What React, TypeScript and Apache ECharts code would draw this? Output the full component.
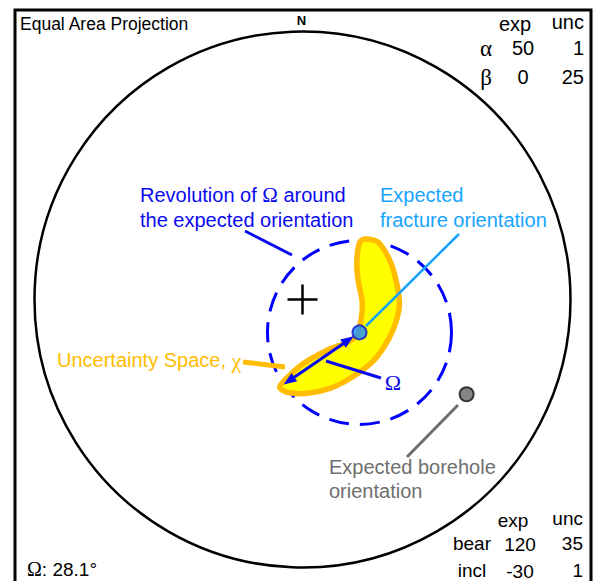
import { useEffect, useRef } from "react";
import * as echarts from "echarts";

const SANS = '"Liberation Sans", Arial, sans-serif';
const SERIF = '"Liberation Serif", "Times New Roman", serif';

// Fracture orientation relative to the borehole axis (degrees)
const fractureRows = ["α", "β"];
const fractureExp = [50, 0];
const fractureUnc = [1, 25];

// Borehole orientation (degrees)
const boreholeRows = ["bear", "incl"];
const boreholeExp = [120, -30];
const boreholeUnc = [35, 1];

// Largest angular departure of the fracture pole inside the uncertainty space
const omegaDeg = 28.1;

// Boundary of the uncertainty space χ, in net units (primitive circle radius = 1)
const chiOutline: [number, number][] = [
  [0.235, 0.226], [0.282, 0.214], [0.319, 0.16], [0.342, 0.101], [0.36, 0.011],
  [0.36, -0.037], [0.342, -0.103], [0.304, -0.177], [0.256, -0.237], [0.18, -0.293],
  [0.104, -0.331], [0.019, -0.35], [-0.058, -0.346], [-0.085, -0.327], [-0.06, -0.295],
  [0.002, -0.24], [0.09, -0.19], [0.166, -0.16], [0.203, -0.134], [0.214, -0.1],
  [0.222, -0.049], [0.222, 0.0], [0.207, 0.075], [0.203, 0.149], [0.214, 0.214],
];

type Vec = [number, number, number];
const rad = (d: number) => (d * Math.PI) / 180;

// unit vector [east, north, down] of a line with given azimuth and plunge
function lineVector(azimuth: number, plunge: number): Vec {
  const a = rad(azimuth);
  const p = rad(plunge);
  return [Math.cos(p) * Math.sin(a), Math.cos(p) * Math.cos(a), Math.sin(p)];
}

// lower-hemisphere equal-area (Schmidt) projection
function project(v: Vec): [number, number] {
  let [e, n, d] = v;
  if (d < 0) {
    e = -e;
    n = -n;
    d = -d;
  }
  const theta = Math.acos(Math.min(1, d));
  const r = Math.SQRT2 * Math.sin(theta / 2);
  const h = Math.hypot(e, n);
  return h < 1e-9 ? [0, 0] : [(r * e) / h, (r * n) / h];
}

const [bear, incl] = boreholeExp;
const [alpha, beta] = fractureExp;
const plunge = -incl;
const axis = lineVector(bear, plunge);
const lowSide: Vec = [
  -Math.sin(rad(plunge)) * Math.sin(rad(bear)),
  -Math.sin(rad(plunge)) * Math.cos(rad(bear)),
  Math.cos(rad(plunge)),
];
const side: Vec = [
  axis[1] * lowSide[2] - axis[2] * lowSide[1],
  axis[2] * lowSide[0] - axis[0] * lowSide[2],
  axis[0] * lowSide[1] - axis[1] * lowSide[0],
];
const tilt = rad(90 - alpha);
const poleVec = [0, 1, 2].map(
  (i) =>
    Math.cos(tilt) * axis[i] +
    Math.sin(tilt) * (Math.cos(rad(beta)) * lowSide[i] + Math.sin(rad(beta)) * side[i])
) as Vec;

const polePoint = project(poleVec);
const boreholePoint = project(axis);
const omegaRadius = Math.SQRT2 * Math.sin(rad(omegaDeg) / 2);

// Ω points from the expected pole to the farthest part of χ
const farthest = chiOutline.reduce((best, p) =>
  Math.hypot(p[0] - polePoint[0], p[1] - polePoint[1]) >
  Math.hypot(best[0] - polePoint[0], best[1] - polePoint[1])
    ? p
    : best
);
const farDist = Math.hypot(farthest[0] - polePoint[0], farthest[1] - polePoint[1]);
const omegaTip: [number, number] = [
  polePoint[0] + ((farthest[0] - polePoint[0]) / farDist) * omegaRadius,
  polePoint[1] + ((farthest[1] - polePoint[1]) / farDist) * omegaRadius,
];

const BLUE = "#0a0af0";
const CYAN = "#17a4ff";
const ORANGE = "#ffbc00";
const GREY = "#6e6e6e";

function txt(
  text: string,
  x: number,
  y: number,
  opts: { fill?: string; size?: number; family?: string; align?: string; weight?: string; rich?: any } = {}
) {
  return {
    type: "text",
    z: 6,
    style: {
      text,
      x,
      y,
      fill: opts.fill || "#000",
      fontSize: opts.size || 20,
      fontFamily: opts.family || SANS,
      fontWeight: opts.weight || "normal",
      textAlign: opts.align || "left",
      textVerticalAlign: "middle",
      rich: opts.rich,
    },
  };
}

function leader(x1: number, y1: number, x2: number, y2: number, stroke: string, width: number) {
  return {
    type: "line",
    z: 3,
    shape: { x1, y1, x2, y2 },
    style: { stroke, lineWidth: width, lineCap: "butt" },
  };
}

function buildOption() {
  const serifRich = (fill: string, size: number) => ({
    g: { fontFamily: SERIF, fontSize: size, fill },
  });

  const tableTexts: any[] = [
    txt("exp", 515, 24, { align: "center" }),
    txt("unc", 584, 22, { align: "right" }),
    txt("exp", 513, 520, { align: "center", size: 19 }),
    txt("unc", 583, 518, { align: "right", size: 19 }),
  ];
  const topRowsY = [48, 77];
  fractureRows.forEach((label, i) => {
    tableTexts.push(txt(label, 486, topRowsY[i], { family: SERIF, size: 23, align: "center" }));
    tableTexts.push(txt(String(fractureExp[i]), 523, topRowsY[i], { align: "center" }));
    tableTexts.push(txt(String(fractureUnc[i]), 584, topRowsY[i], { align: "right" }));
  });
  const bottomRowsY = [543, 570];
  boreholeRows.forEach((label, i) => {
    tableTexts.push(txt(label, 472, bottomRowsY[i], { align: "center", size: 19 }));
    tableTexts.push(txt(String(boreholeExp[i]), 520, bottomRowsY[i] + 1, { align: "center", size: 19 }));
    tableTexts.push(txt(String(boreholeUnc[i]), 583, bottomRowsY[i], { align: "right", size: 19 }));
  });

  return {
    animation: false,
    grid: { left: 34.5, top: 31.5, width: 536, height: 536 },
    xAxis: { type: "value", min: -1, max: 1, show: false },
    yAxis: { type: "value", min: -1, max: 1, show: false },
    graphic: {
      elements: [
        {
          type: "rect",
          z: 1,
          shape: { x: 15, y: 10, width: 576, height: 620 },
          style: { fill: "none", stroke: "#000", lineWidth: 3 },
        },
        txt("Equal Area Projection", 20, 24, { size: 17.5 }),
        txt("N", 301.5, 20, { size: 13, weight: "bold", align: "center" }),
        ...tableTexts,
        txt("Revolution of {g|Ω} around", 140, 195, { fill: BLUE, rich: serifRich(BLUE, 21) }),
        txt("the expected orientation", 140, 220, { fill: BLUE }),
        txt("Expected", 380, 195, { fill: CYAN }),
        txt("fracture orientation", 380, 220, { fill: CYAN }),
        txt("Uncertainty Space,{g| χ}", 57, 360, { fill: ORANGE, rich: serifRich(ORANGE, 22) }),
        txt("Ω", 393, 382, { fill: BLUE, family: SERIF, size: 22, align: "center" }),
        txt("Expected borehole", 329, 467, { fill: GREY }),
        txt("orientation", 329, 491, { fill: GREY }),
        txt("{g|Ω}: 28.1°", 27, 569, { size: 19, rich: serifRich("#000", 20) }),
        leader(245, 231, 292, 255, BLUE, 3),
        leader(366, 326, 459, 234, CYAN, 2.5),
        leader(243, 362, 285, 367, ORANGE, 5),
        leader(326, 361, 381, 378, BLUE, 3),
        leader(458, 405, 407, 457, GREY, 3),
      ],
    },
    series: [
      {
        // primitive circle of the net
        type: "custom",
        coordinateSystem: "cartesian2d",
        z: 2,
        data: [[0, 0]],
        renderItem: (_p: any, api: any) => {
          const c = api.coord([api.value(0), api.value(1)]);
          const r = api.size([1, 1])[0];
          return {
            type: "circle",
            shape: { cx: c[0], cy: c[1], r },
            style: { fill: "none", stroke: "#000", lineWidth: 2.5 },
          };
        },
      },
      {
        // revolution of Ω around the expected pole
        type: "custom",
        coordinateSystem: "cartesian2d",
        z: 2,
        data: [[polePoint[0], polePoint[1]]],
        renderItem: (_p: any, api: any) => {
          const c = api.coord([api.value(0), api.value(1)]);
          const r = api.size([omegaRadius, omegaRadius])[0];
          return {
            type: "circle",
            shape: { cx: c[0], cy: c[1], r },
            style: { fill: "none", stroke: "#0000ff", lineWidth: 3, lineDash: [20, 11] },
          };
        },
      },
      {
        // uncertainty space χ
        type: "custom",
        coordinateSystem: "cartesian2d",
        z: 2,
        data: [[0, 0]],
        renderItem: (_p: any, api: any) => ({
          type: "polygon",
          shape: { points: chiOutline.map((p) => api.coord(p)), smooth: 0.3 },
          style: { fill: "#ffff00", stroke: ORANGE, lineWidth: 5.5, lineJoin: "round" },
        }),
      },
      {
        // centre of the net
        type: "custom",
        coordinateSystem: "cartesian2d",
        z: 2,
        data: [[0, 0]],
        renderItem: (_p: any, api: any) => {
          const c = api.coord([api.value(0), api.value(1)]);
          const s = 15;
          const st = { stroke: "#000", lineWidth: 2.5 };
          return {
            type: "group",
            children: [
              { type: "line", shape: { x1: c[0] - s, y1: c[1], x2: c[0] + s, y2: c[1] }, style: st },
              { type: "line", shape: { x1: c[0], y1: c[1] - s, x2: c[0], y2: c[1] + s }, style: st },
            ],
          };
        },
      },
      {
        // Ω double-headed arrow
        type: "custom",
        coordinateSystem: "cartesian2d",
        z: 4,
        data: [[polePoint[0], polePoint[1], omegaTip[0], omegaTip[1]]],
        renderItem: (_p: any, api: any) => {
          const p0 = api.coord([api.value(0), api.value(1)]);
          const p1 = api.coord([api.value(2), api.value(3)]);
          const dx = p1[0] - p0[0];
          const dy = p1[1] - p0[1];
          const L = Math.hypot(dx, dy);
          const ux = dx / L;
          const uy = dy / L;
          const s = [p0[0] + ux * 7, p0[1] + uy * 7];
          const head = (t: number[], dirx: number, diry: number) => [
            [t[0], t[1]],
            [t[0] - dirx * 13 - diry * 5, t[1] - diry * 13 + dirx * 5],
            [t[0] - dirx * 13 + diry * 5, t[1] - diry * 13 - dirx * 5],
          ];
          return {
            type: "group",
            children: [
              {
                type: "line",
                shape: { x1: s[0] + ux * 8, y1: s[1] + uy * 8, x2: p1[0] - ux * 8, y2: p1[1] - uy * 8 },
                style: { stroke: BLUE, lineWidth: 3 },
              },
              { type: "polygon", shape: { points: head(p1, ux, uy) }, style: { fill: BLUE } },
              { type: "polygon", shape: { points: head(s, -ux, -uy) }, style: { fill: BLUE } },
            ],
          };
        },
      },
      {
        type: "scatter",
        z: 5,
        symbol: "circle",
        symbolSize: 14,
        data: [
          {
            value: polePoint,
            itemStyle: { color: "#1a90ff", borderColor: "#0a14d0", borderWidth: 2 },
          },
          {
            value: boreholePoint,
            itemStyle: { color: "#666666", borderColor: "#111", borderWidth: 2 },
          },
        ],
      },
    ],
  };
}

export default function App() {
  const ref = useRef<HTMLDivElement>(null);
  useEffect(() => {
    if (!ref.current) return;
    const chart = echarts.init(ref.current, undefined, { renderer: "svg" });
    chart.setOption(buildOption() as any);
    return () => chart.dispose();
  }, []);
  return (
    <div
      ref={ref}
      style={{ position: "fixed", left: 0, top: 0, width: 595, height: 581, background: "#fff" }}
    />
  );
}
